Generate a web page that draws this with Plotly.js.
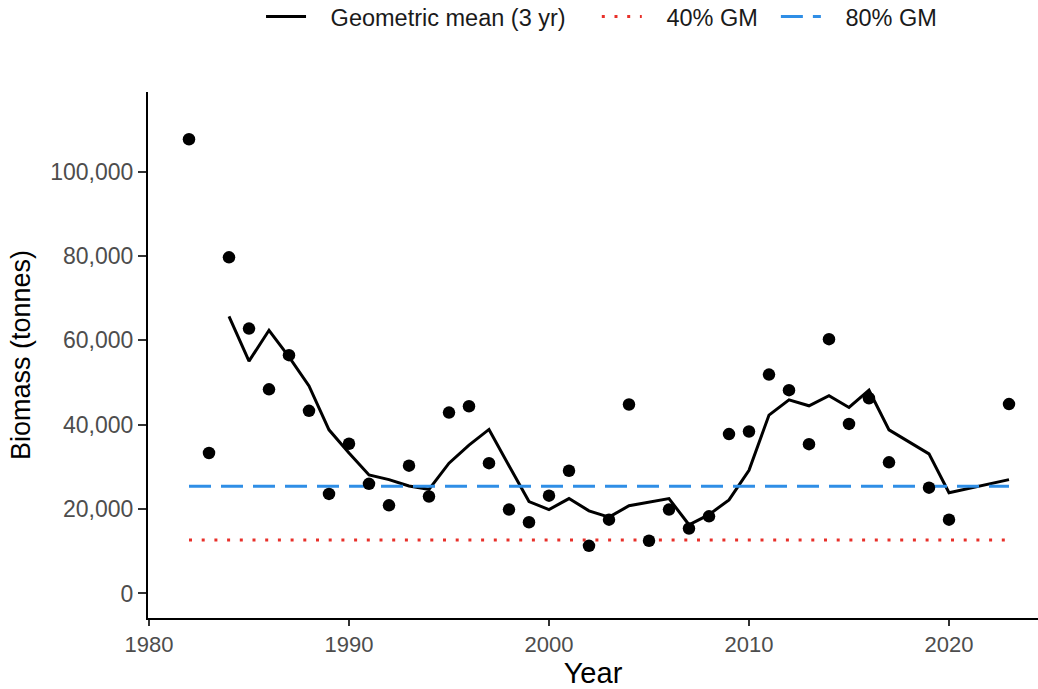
<!DOCTYPE html>
<html>
<head>
<meta charset="utf-8">
<script src="https://cdn.plot.ly/plotly-3.0.1.min.js"></script>
<style>html,body{margin:0;padding:0;background:#fff;}#chart{width:1038px;height:689px;}</style>
</head>
<body>
<div id="chart"></div>
<script>
const pointYears = [1982,1983,1984,1985,1986,1987,1988,1989,1990,1991,1992,1993,1994,1995,1996,1997,1998,1999,2000,2001,2002,2003,2004,2005,2006,2007,2008,2009,2010,2011,2012,2013,2014,2015,2016,2017,2019,2020,2023];
const biomass = [107700,33300,79700,62800,48400,56500,43300,23600,35500,26000,20900,30300,23000,42900,44400,30900,19900,16900,23200,29100,11300,17500,44800,12500,19900,15400,18300,37800,38400,51900,48200,35400,60300,40200,46300,31100,25100,17500,44900];

const gmYears = [1984,1985,1986,1987,1988,1989,1990,1991,1992,1993,1994,1995,1996,1997,1998,1999,2000,2001,2002,2003,2004,2005,2006,2007,2008,2009,2010,2011,2012,2013,2014,2015,2016,2017,2018,2019,2020,2021,2022,2023];
const gm = [65700,55100,62400,56100,49200,38800,33300,28100,27000,25500,24700,30900,35200,38900,30300,21800,19900,22500,19600,18100,20800,21600,22500,16300,18700,22200,29200,42300,45900,44500,46900,44100,48200,38800,36000,33100,23900,24900,25900,27000];

const refYears = [1982, 2023];
const gm80 = 25400;
const gm40 = 12700;

const legendNames = ['Geometric mean (3 yr)', '40% GM', '80% GM'];
const xTicks = [1980,1990,2000,2010,2020];
const yTicks = [0,20000,40000,60000,80000,100000];

const fontFam = '"Liberation Sans", Arial, Helvetica, sans-serif';
const NB = '\u00a0';
const pad = (s, after) => NB + NB + NB + s + NB.repeat(after);

const traces = [
  {x: gmYears, y: gm, type: 'scatter', mode: 'lines', name: pad(legendNames[0], 4),
   line: {color: '#000000', width: 3}},
  {x: refYears, y: refYears.map(() => gm40), type: 'scatter', mode: 'lines', name: pad(legendNames[1], 2),
   line: {color: '#e8302a', width: 3, dash: '3px,9.7px'}},
  {x: refYears, y: refYears.map(() => gm80), type: 'scatter', mode: 'lines', name: pad(legendNames[2], 2),
   line: {color: '#2f8ee6', width: 3, dash: '22px,10px'}},
  {x: pointYears, y: biomass, type: 'scatter', mode: 'markers', showlegend: false,
   marker: {color: '#000000', size: 12.5}}
];

const layout = {
  width: 1038, height: 689,
  margin: {l: 148, r: 0, t: 92, b: 71, pad: 0, autoexpand: false},
  paper_bgcolor: '#ffffff', plot_bgcolor: '#ffffff',
  font: {family: fontFam, color: '#000000'},
  showlegend: true,
  legend: {orientation: 'h', x: 0.127, xanchor: 'left', y: 1.185, yanchor: 'top',
           font: {size: 23.5, color: '#1a1a1a', family: fontFam}, itemwidth: 40, traceorder: 'normal'},
  xaxis: {
    range: [1979.95, 2024.45], tickvals: xTicks, ticktext: xTicks.map(String),
    showgrid: false, zeroline: false, showline: true, linecolor: '#000000', linewidth: 2,
    ticks: 'outside', ticklen: 6, tickwidth: 2, tickcolor: '#333333',
    tickfont: {size: 22, color: '#4d4d4d'},
    title: {text: 'Year', font: {size: 29, color: '#000000'}, standoff: 6}
  },
  yaxis: {
    range: [-5810, 118900], tickvals: yTicks, tickformat: ',',
    showgrid: false, zeroline: false, showline: true, linecolor: '#000000', linewidth: 2,
    ticks: 'outside', ticklen: 8, tickwidth: 2, tickcolor: '#333333',
    tickfont: {size: 23, color: '#4d4d4d'},
    title: {text: 'Biomass (tonnes)', font: {size: 27, color: '#000000'}, standoff: 12}
  }
};

Plotly.newPlot('chart', traces, layout, {displayModeBar: false, staticPlot: true});
</script>
</body>
</html>
